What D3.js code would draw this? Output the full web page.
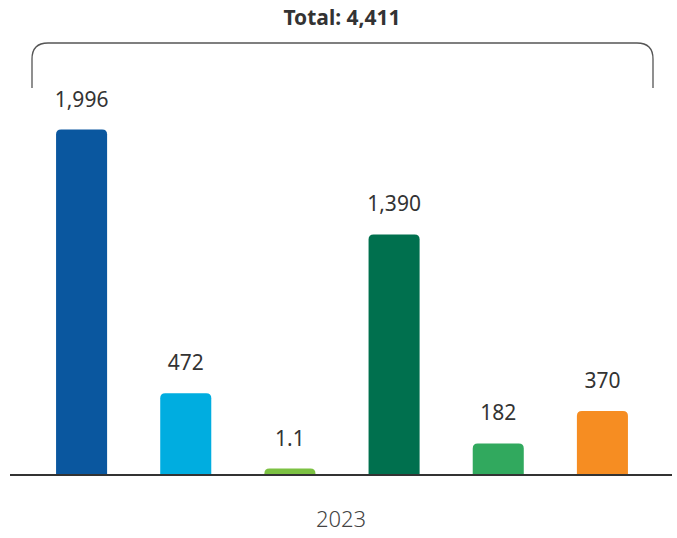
<!DOCTYPE html>
<html>
<head>
<meta charset="utf-8">
<script src="https://cdn.jsdelivr.net/npm/d3@7"></script>
<style>
  html, body { margin: 0; padding: 0; background: #fff; }
  svg { display: block; }
</style>
</head>
<body>
<svg id="chart" width="677" height="538"></svg>
<script>
// Data
const categories = ["A", "B", "C", "D", "E", "F"];
const values = [1996, 472, 1.1, 1390, 182, 370];
const valueLabels = ["1,996", "472", "1.1", "1,390", "182", "370"];
const colors = ["#0A579F", "#00ADE0", "#7CC142", "#00704E", "#31A95E", "#F68D22"];
const totalLabel = "Total: 4,411";
const yearLabel = "2023";

const svg = d3.select("#chart");
const baseY = 475;

const x = d3.scaleBand()
  .domain(categories)
  .range([29.5, 654.5])
  .paddingInner(0.51)
  .paddingOuter(0.255);

const y = d3.scaleLinear()
  .domain([0, d3.max(values)])
  .range([baseY, 129.5]);

const minBarH = 6.5; // keep tiny values visible
const r = 5;

function topRounded(x0, y0, w, h, rad) {
  const rr = Math.min(rad, h, w / 2);
  return `M${x0},${y0 + h}` +
    `V${y0 + rr}` +
    `Q${x0},${y0} ${x0 + rr},${y0}` +
    `H${x0 + w - rr}` +
    `Q${x0 + w},${y0} ${x0 + w},${y0 + rr}` +
    `V${y0 + h}Z`;
}

const data = categories.map((c, i) => ({ c, v: values[i], label: valueLabels[i], color: colors[i] }));
const barH = d => Math.max(baseY - y(d.v), minBarH);

// Bars
svg.append("g").selectAll("path")
  .data(data)
  .join("path")
  .attr("fill", d => d.color)
  .attr("d", d => topRounded(x(d.c), baseY - barH(d), x.bandwidth(), barH(d), r));

// Value labels
svg.append("g").selectAll("text")
  .data(data)
  .join("text")
  .attr("x", d => x(d.c) + x.bandwidth() / 2)
  .attr("y", d => baseY - barH(d) - 23)
  .attr("text-anchor", "middle")
  .attr("font-family", "'Noto Sans', 'Open Sans', sans-serif")
  .attr("font-size", 21)
  .attr("fill", "#333")
  .text(d => d.label);

// Baseline
svg.append("line")
  .attr("x1", 10).attr("x2", 672)
  .attr("y1", baseY).attr("y2", baseY)
  .attr("stroke", "#333")
  .attr("stroke-width", 2);

// Year label
svg.append("text")
  .attr("x", 341)
  .attr("y", 527)
  .attr("text-anchor", "middle")
  .attr("font-family", "'Noto Sans', 'Open Sans', sans-serif")
  .attr("font-size", 22)
  .attr("font-weight", 300)
  .attr("fill", "#444")
  .text(yearLabel);

// Bracket over all bars
const bx0 = 32, bx1 = 653, bTop = 43, bBottom = 88, br = 16;
svg.append("path")
  .attr("fill", "none")
  .attr("stroke", "#555")
  .attr("stroke-width", 1.3)
  .attr("d", `M${bx0},${bBottom}V${bTop + br}Q${bx0},${bTop} ${bx0 + br},${bTop}` +
             `H${bx1 - br}Q${bx1},${bTop} ${bx1},${bTop + br}V${bBottom}`);

// Total title
svg.append("text")
  .attr("x", 342)
  .attr("y", 25)
  .attr("text-anchor", "middle")
  .attr("font-family", "'Noto Sans', 'Open Sans', sans-serif")
  .attr("font-size", 21)
  .attr("font-weight", 700)
  .attr("fill", "#333")
  .text(totalLabel);
</script>
</body>
</html>
